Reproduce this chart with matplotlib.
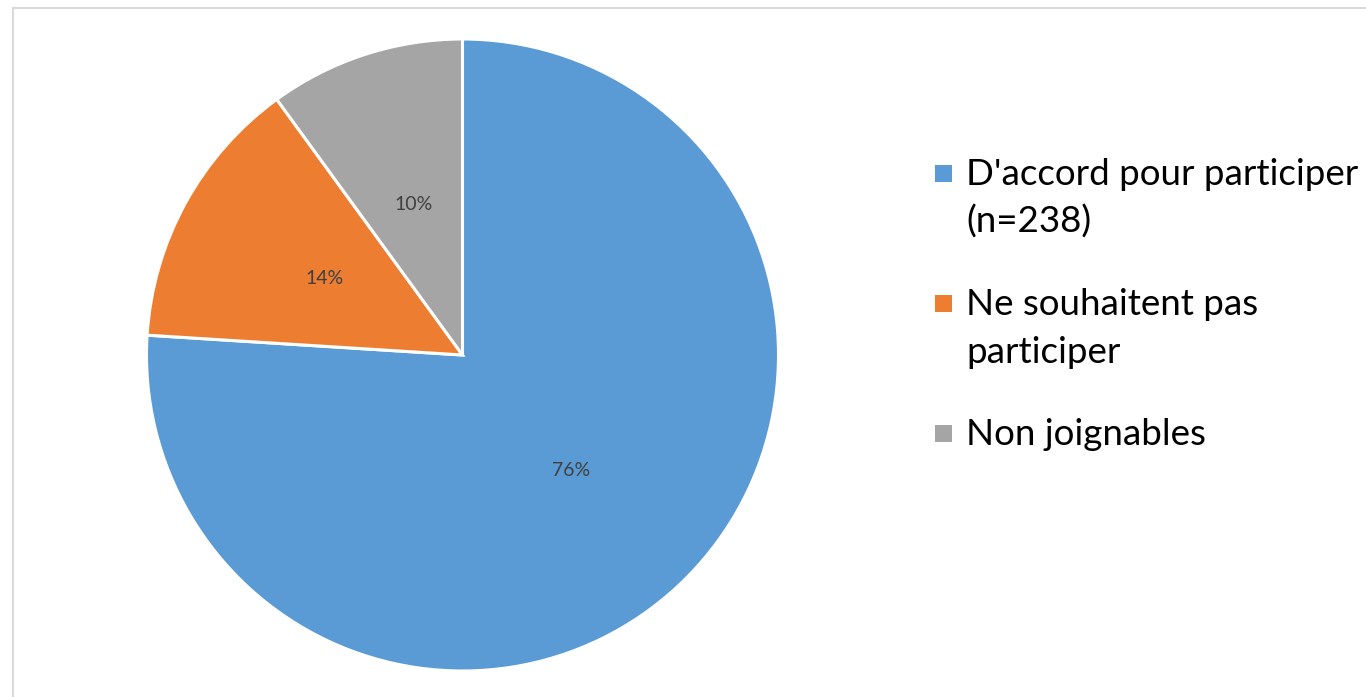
import matplotlib
matplotlib.use("Agg")
import matplotlib.pyplot as plt
from matplotlib.patches import Rectangle

# donnees du graphique
categories = ["D'accord pour participer\n(n=238)", "Ne souhaitent pas\nparticiper", "Non joignables"]
percentages = [76, 14, 10]
colors = ["#5B9BD5", "#ED7D31", "#A5A5A5"]

plt.rcParams['font.family'] = ['Lato', 'DejaVu Sans']

fig = plt.figure(figsize=(13.66, 6.97), dpi=100)
W, H = 1366, 697

# cadre gris clair (coupe a droite et en bas)
fig.patches.append(Rectangle((13 / W, -0.1), 1.2, 1 - 8 / H + 0.1, transform=fig.transFigure,
                             fill=False, edgecolor="#d9d9d9", linewidth=1.5))

# camembert
cx, cy, r = 462.5, 355, 316
ax = fig.add_axes([(cx - r) / W, 1 - (cy + r) / H, 2 * r / W, 2 * r / H])
wedges, texts, autotexts = ax.pie(percentages, colors=colors, startangle=90, counterclock=False,
                                  autopct='%d%%', pctdistance=0.5, radius=1,
                                  wedgeprops=dict(edgecolor='white', linewidth=2.2),
                                  textprops=dict(color='#404040', fontsize=14))
ax.set_xlim(-1, 1)
ax.set_ylim(-1, 1)
ax.set_aspect('equal')
ax.axis('off')

# legende manuelle (carre aligne sur la premiere ligne)
baselines = [185, 315, 445]
line_step = 48
for label, color, yb in zip(categories, colors, baselines):
    fig.patches.append(Rectangle((935 / W, 1 - (yb - 3) / H), 17 / W, 17 / H,
                                 transform=fig.transFigure, facecolor=color, edgecolor='none'))
    for i, line in enumerate(label.split("\n")):
        fig.text(966 / W, 1 - (yb + i * line_step) / H, line, fontsize=26.5, color='black',
                 va='baseline', transform=fig.transFigure)

fig.savefig("out.png", dpi=100)
